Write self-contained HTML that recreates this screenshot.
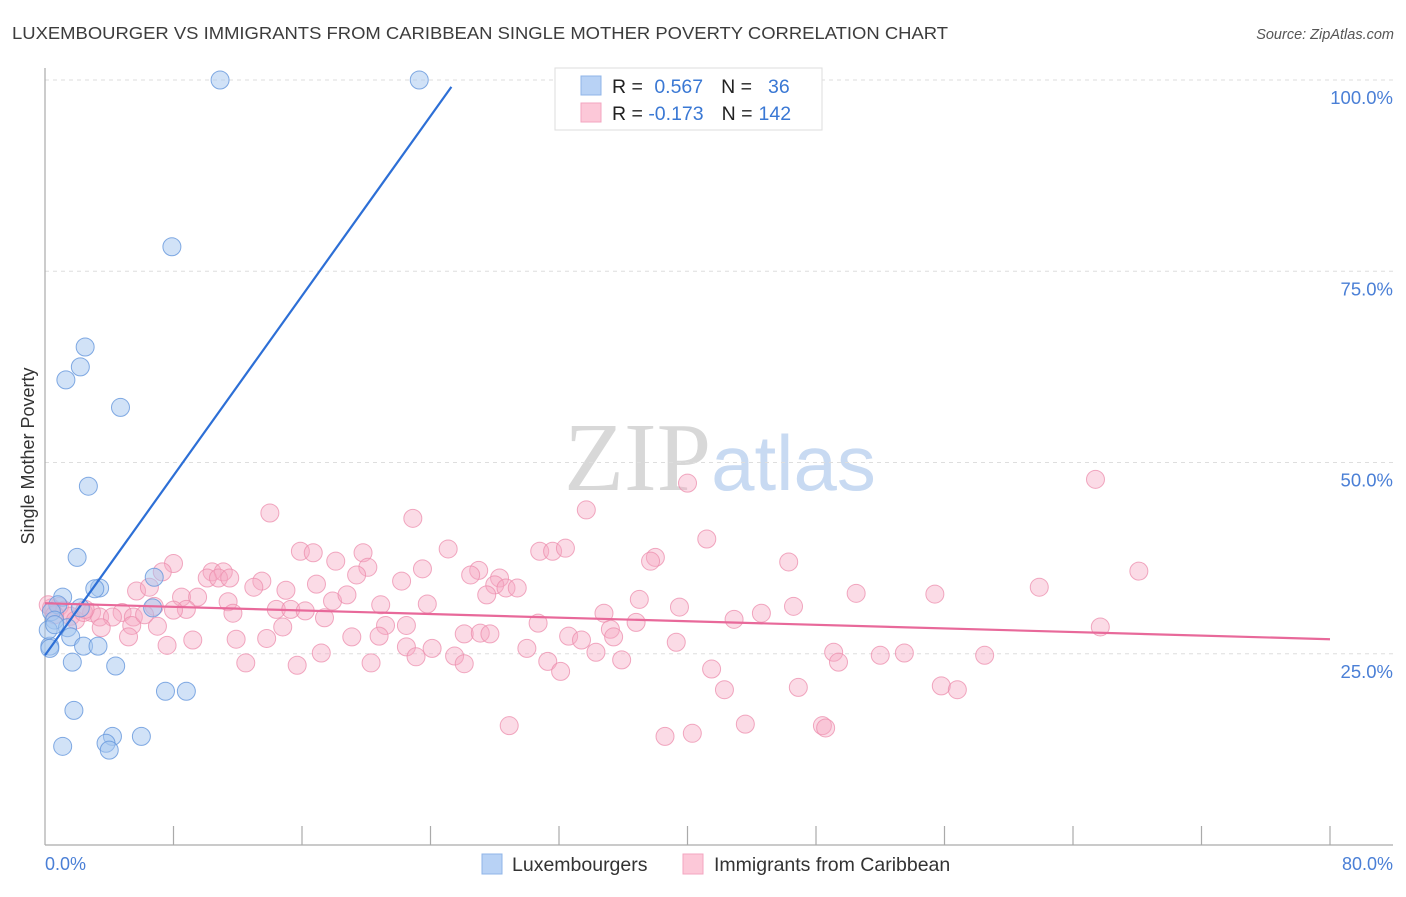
<!DOCTYPE html>
<html><head><meta charset="utf-8"><style>
body{margin:0;background:#fff;}
svg text{font-family:"Liberation Sans",sans-serif;}
</style></head><body>
<svg id="chart" width="1406" height="892" viewBox="0 0 1406 892" xmlns="http://www.w3.org/2000/svg">
<text x="12" y="39" font-size="17.5" fill="#3c3c3c" textLength="936" lengthAdjust="spacingAndGlyphs">LUXEMBOURGER VS IMMIGRANTS FROM CARIBBEAN SINGLE MOTHER POVERTY CORRELATION CHART</text>
<text x="1394" y="39" font-size="14.5" fill="#555" font-style="italic" text-anchor="end">Source: ZipAtlas.com</text>
<text x="720" y="490" font-size="98" text-anchor="middle"><tspan fill="#d8d8d8" font-family="Liberation Serif,serif">ZIP</tspan><tspan fill="#c8daf2" font-size="78">atlas</tspan></text>
<g id="grid"></g>
<g id="axes"></g>
<g id="pink"></g>
<g id="blue"></g>
<g id="lines"></g>
<text transform="translate(34,456) rotate(-90)" font-size="18" fill="#333" text-anchor="middle">Single Mother Poverty</text>
<text x="45" y="870" font-size="18" fill="#4a7fd6">0.0%</text>
<text x="1393" y="870" font-size="18" fill="#4a7fd6" text-anchor="end">80.0%</text>
<g>
<rect x="555" y="68" width="267" height="62" fill="#fff" stroke="#ddd"/>
<rect x="581" y="76" width="20" height="19" fill="#b8d2f5" stroke="#8fb4e8"/>
<rect x="581" y="103" width="20" height="19" fill="#fcc8d8" stroke="#f3a6c0"/>
<text x="612" y="93" font-size="19.5" fill="#222">R = <tspan fill="#3a78d4" dx="6">0.567</tspan><tspan dx="18" fill="#222">N =</tspan><tspan dx="16" fill="#3a78d4">36</tspan></text>
<text x="612" y="120" font-size="19.5" fill="#222">R = <tspan fill="#3a78d4">-0.173</tspan><tspan dx="18" fill="#222">N =</tspan><tspan dx="6" fill="#3a78d4">142</tspan></text>
</g>
<g>
<rect x="482" y="854" width="20" height="20" fill="#b8d2f5" stroke="#8fb4e8"/>
<text x="512" y="871" font-size="19.5" fill="#333">Luxembourgers</text>
<rect x="683" y="854" width="20" height="20" fill="#fcc8d8" stroke="#f3a6c0"/>
<text x="714" y="871" font-size="19.5" fill="#333">Immigrants from Caribbean</text>
</g>
</svg>
<script>
const blueX=[10.9,23.3,7.9,2.5,2.2,1.3,4.7,2.7,2.0,6.8,3.4,3.1,1.1,6.7,2.2,0.8,0.4,0.6,1.4,1.6,2.4,3.3,0.3,1.7,4.4,7.5,8.8,1.8,4.2,6.0,3.8,4.0,1.1,0.2,0.6,0.3];
const blueY=[100,100,78.2,65.1,62.5,60.8,57.2,46.9,37.6,35.0,33.6,33.5,32.4,31.0,31.0,31.4,30.5,29.4,28.4,27.2,26.0,26.0,26.0,23.9,23.4,20.1,20.1,17.6,14.2,14.2,13.3,12.4,12.9,28.1,28.8,25.7];
const pinkX=[14.0,22.9,33.7,40.0,65.4,41.2,25.1,15.9,16.7,19.8,30.8,31.6,32.4,38.0,37.7,46.3,18.1,20.1,8.0,7.3,68.1,23.5,27.0,10.4,11.1,10.1,10.8,11.5,26.5,19.4,13.5,22.2,28.3,28.0,28.7,16.9,5.7,6.5,13.0,15.0,29.4,27.5,61.9,8.5,9.5,11.4,17.9,18.8,50.5,55.4,37.0,39.5,46.6,23.8,20.9,14.4,15.3,8.8,6.8,8.0,4.8,11.7,16.2,34.8,44.6,2.9,3.4,4.2,0.9,1.2,1.6,0.4,5.5,42.9,17.4,21.2,22.5,14.8,36.8,30.7,35.2,5.4,7.0,3.5,65.7,5.2,9.2,11.9,13.8,19.1,20.8,26.1,27.1,27.7,32.6,35.4,33.4,39.3,7.6,30.0,22.5,24.1,34.3,17.2,25.5,35.9,49.1,52.0,53.5,58.5,49.4,12.5,15.7,20.3,23.1,26.1,31.3,32.1,41.5,42.3,46.9,55.8,56.8,28.9,38.6,40.3,43.6,48.4,48.6,0.2,0.6,1.9,2.4,6.2,2.5];
const pinkY=[43.4,42.7,43.8,47.3,47.8,40.0,38.7,38.4,38.2,38.2,38.4,38.4,38.8,37.6,37.1,37.0,37.1,36.3,36.8,35.7,35.8,36.1,35.9,35.7,35.7,34.9,34.9,34.9,35.3,35.3,34.5,34.5,34.9,34.0,33.6,34.1,33.2,33.7,33.7,33.3,33.6,32.7,33.7,32.4,32.4,31.8,31.9,32.7,32.9,32.8,32.1,31.1,31.2,31.5,31.4,30.8,30.8,30.8,31.2,30.7,30.4,30.3,30.6,30.3,30.3,30.4,29.8,29.8,31.2,30.7,29.9,31.0,29.8,29.5,29.7,28.7,28.7,28.5,29.1,29.0,28.2,28.7,28.6,28.4,28.5,27.2,26.8,26.9,27.0,27.2,27.3,27.6,27.7,27.6,27.3,27.2,26.8,26.5,26.1,25.7,25.9,25.7,25.2,25.1,24.7,24.2,25.2,24.8,25.1,24.8,23.9,23.8,23.5,23.8,24.6,23.7,24.0,22.7,23.0,20.3,20.6,20.8,20.3,15.6,14.2,14.6,15.8,15.6,15.3,31.4,30.1,29.4,30.4,30.1,30.8];
const yTicks=[25,50,75,100];
const yTickLabels=["25.0%","50.0%","75.0%","100.0%"];
const xTicks=[0,8,16,24,32,40,48,56,64,72,80];
const blueTrend=[0,24.8,25.3,99.1];
const pinkTrend=[0,31.6,80,26.9];

const NS="http://www.w3.org/2000/svg";
const X0=45,X1=1330,Y0=845,Y100=80;
const sx=v=>X0+v/80*(X1-X0);
const sy=v=>Y0-v/100*(Y0-Y100);
function mk(tag,attrs,parent){const e=document.createElementNS(NS,tag);for(const k in attrs)e.setAttribute(k,attrs[k]);parent.appendChild(e);return e;}
const grid=document.getElementById('grid'),axes=document.getElementById('axes');
yTicks.forEach((t,i)=>{
  const l=mk('line',{x1:X0,x2:1393,y1:sy(t),y2:sy(t),stroke:'#dedede','stroke-dasharray':'4,4'},grid);
  
  
  const tx=mk('text',{x:1393,y:sy(t)+24,'font-size':18.5,fill:'#4a7fd6','text-anchor':'end'},grid);
  tx.textContent=yTickLabels[i];
  
  
});
const ya=mk('line',{x1:X0,x2:X0,y1:68,y2:Y0,stroke:'#aaa','stroke-width':1.2},axes);


const xa=mk('line',{x1:X0,x2:1393,y1:Y0,y2:Y0,stroke:'#aaa','stroke-width':1.2},axes);


xTicks.forEach(t=>{
  if(t===0)return;
  const l=mk('line',{x1:sx(t),x2:sx(t),y1:826,y2:Y0,stroke:'#aaa','stroke-width':1.2},axes);
  
  
});
const pg=document.getElementById('pink');
pinkX.forEach((v,i)=>{
  const c=mk('circle',{cx:sx(v),cy:sy(pinkY[i]),r:9,fill:'rgba(246,170,196,0.42)',stroke:'rgba(236,140,172,0.75)','stroke-width':1},pg);
  
  
});
const bg=document.getElementById('blue');
blueX.forEach((v,i)=>{
  const c=mk('circle',{cx:sx(v),cy:sy(blueY[i]),r:9,fill:'rgba(164,198,240,0.5)',stroke:'rgba(100,150,220,0.8)','stroke-width':1},bg);
  
  
});
const lg=document.getElementById('lines');
const bl=mk('line',{x1:sx(blueTrend[0]),y1:sy(blueTrend[1]),x2:sx(blueTrend[2]),y2:sy(blueTrend[3]),stroke:'#2d6fd6','stroke-width':2.2},lg);


const pl=mk('line',{x1:sx(pinkTrend[0]),y1:sy(pinkTrend[1]),x2:sx(pinkTrend[2]),y2:sy(pinkTrend[3]),stroke:'#e8699a','stroke-width':2.2},lg);


</script>
</body></html>
